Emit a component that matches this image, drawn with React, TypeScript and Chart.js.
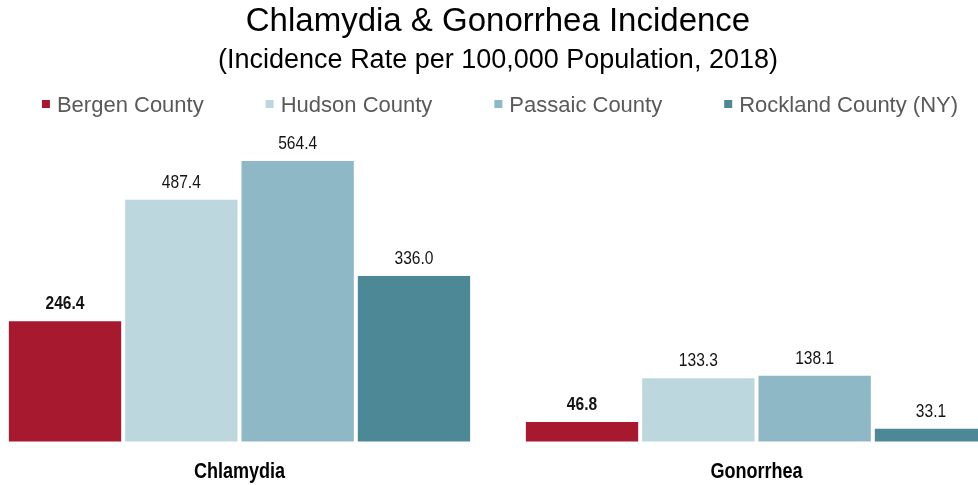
import React, { useEffect, useRef } from "react";
import { Chart, registerables } from "chart.js";

Chart.register(...registerables);

const categories = ["Chlamydia", "Gonorrhea"];
const seriesNames = ["Bergen County", "Hudson County", "Passaic County", "Rockland County (NY)"];
const bergen = [246.4, 46.8];
const hudson = [487.4, 133.3];
const passaic = [564.4, 138.1];
const rockland = [336.0, 33.1];
const seriesValues = [bergen, hudson, passaic, rockland];
const colors = ["#A6192E", "#BDD7DE", "#8FB8C6", "#4D8896"];
const titleText = "Chlamydia & Gonorrhea Incidence";
const subtitleText = "(Incidence Rate per 100,000 Population, 2018)";
const yMax = 600;

const SANS = "'Liberation Sans', Arial, sans-serif";
const NARROW_SCALE = 0.82;

function drawNarrow(ctx: CanvasRenderingContext2D, text: string, x: number, y: number, font: string, color: string) {
  ctx.save();
  ctx.font = font;
  ctx.fillStyle = color;
  ctx.textAlign = "center";
  ctx.textBaseline = "alphabetic";
  ctx.translate(x, y);
  ctx.scale(NARROW_SCALE, 1);
  ctx.fillText(text, 0, 0);
  ctx.restore();
}

const valueLabels = {
  id: "valueLabels",
  afterDatasetsDraw(chart: any) {
    const ctx = chart.ctx;
    chart.data.datasets.forEach((ds: any, di: number) => {
      const meta = chart.getDatasetMeta(di);
      meta.data.forEach((bar: any, i: number) => {
        const v = ds.data[i] as number;
        drawNarrow(ctx, v.toFixed(1), bar.x, bar.y - 10, `${di === 0 ? "bold " : ""}19px ${SANS}`, "#141414");
      });
    });
  },
};

const categoryLabels = {
  id: "categoryLabels",
  afterDraw(chart: any) {
    const ctx = chart.ctx;
    const xs = chart.scales.x;
    chart.data.labels.forEach((lab: string, i: number) => {
      drawNarrow(ctx, lab, xs.getPixelForTick(i), 478, `bold 22px ${SANS}`, "#000");
    });
  },
};

const customLegend = {
  id: "customLegend",
  afterDraw(chart: any) {
    const ctx = chart.ctx;
    ctx.save();
    ctx.font = `22px ${SANS}`;
    const box = 8;
    const gap = 7;
    const spacing = 62;
    const items = chart.data.datasets.map((ds: any) => ({
      text: ds.label as string,
      color: ds.backgroundColor as string,
      w: ctx.measureText(ds.label).width,
    }));
    const total =
      items.reduce((s: number, it: any) => s + box + gap + it.w, 0) + spacing * (items.length - 1);
    let x = chart.width / 2 - total / 2 + 2;
    items.forEach((it: any) => {
      ctx.fillStyle = it.color;
      ctx.fillRect(x, 100, box, box);
      x += box + gap;
      ctx.fillStyle = "#595959";
      ctx.textAlign = "left";
      ctx.textBaseline = "alphabetic";
      ctx.fillText(it.text, x, 111.7);
      x += it.w + spacing;
    });
    ctx.restore();
  },
};

export default function App() {
  const ref = useRef<HTMLCanvasElement>(null);
  useEffect(() => {
    if (!ref.current) return;
    const chart = new Chart(ref.current, {
      type: "bar",
      data: {
        labels: categories,
        datasets: seriesNames.map((name, i) => ({
          label: name,
          data: seriesValues[i],
          backgroundColor: colors[i],
          borderColor: "#ffffff",
          borderWidth: 2,
          borderSkipped: false,
        })),
      },
      options: {
        responsive: false,
        animation: false,
        devicePixelRatio: 1,
        events: [],
        layout: { padding: 0 },
        datasets: { bar: { categoryPercentage: 0.9, barPercentage: 1 } },
        plugins: {
          legend: { display: false },
          tooltip: { enabled: false },
          title: {
            display: true,
            text: titleText,
            color: "#000",
            font: { family: SANS, size: 33, weight: "normal" },
            padding: { top: 2, bottom: 3 },
          },
          subtitle: {
            display: true,
            text: subtitleText,
            color: "#000",
            font: { family: SANS, size: 27, weight: "normal" },
            padding: { top: 0, bottom: 64 },
          },
        },
        scales: {
          x: {
            grid: { display: false, drawTicks: false },
            border: { display: false },
            ticks: { display: false },
            afterFit: (scale: any) => {
              scale.height = 41.5;
            },
          },
          y: { display: false, min: 0, max: yMax },
        },
      },
      plugins: [valueLabels, categoryLabels, customLegend],
    } as any);
    return () => chart.destroy();
  }, []);
  return (
    <div
      style={{
        position: "fixed",
        left: 0,
        top: 0,
        width: 978,
        height: 485,
        overflow: "hidden",
        background: "#fff",
      }}
    >
      <canvas
        ref={ref}
        width={1034}
        height={485}
        style={{ position: "absolute", left: -19, top: 0, width: 1034, height: 485 }}
      />
    </div>
  );
}
